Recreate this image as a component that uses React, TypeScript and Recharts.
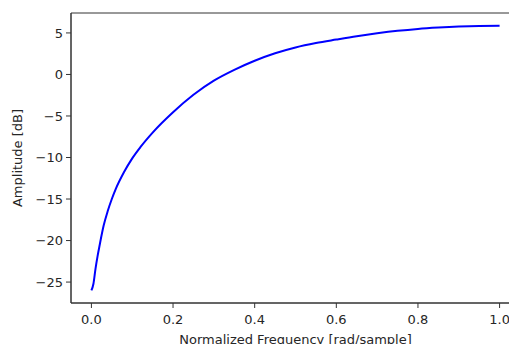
import { LineChart, Line, XAxis, YAxis, ReferenceArea } from 'recharts';

const frequency = [
  0, 0.005, 0.01, 0.015, 0.02, 0.03, 0.04, 0.05, 0.06, 0.08, 0.1, 0.12, 0.15,
  0.2, 0.25, 0.3, 0.35, 0.4, 0.45, 0.5, 0.55, 0.6, 0.65, 0.7, 0.75, 0.8, 0.85,
  0.9, 0.95, 1.0,
];
const amplitude = [
  -26.0, -25.2, -23.4, -21.9, -20.6, -18.2, -16.45, -15.0, -13.75, -11.75,
  -10.1, -8.75, -7.0, -4.55, -2.45, -0.75, 0.55, 1.65, 2.55, 3.25, 3.78, 4.2,
  4.6, 4.95, 5.25, 5.48, 5.64, 5.76, 5.83, 5.85,
];
const xTicks = [0, 0.2, 0.4, 0.6, 0.8, 1.0];
const yTicks = [-25, -20, -15, -10, -5, 0, 5];

const data = frequency.map((f, i) => ({ f, amp: amplitude[i] }));

const FONT = '"DejaVu Sans", sans-serif';
const TEXT = '#262626';
const AXIS = '#333';
const X_DOMAIN: [number, number] = [-0.05, 1.05];
const Y_DOMAIN: [number, number] = [-27.52, 7.4];

const fmtY = (v: number) => (v < 0 ? '\u2212' + Math.abs(v) : String(v));

const YLabel = () => (
  <text
    x={22}
    y={158}
    transform="rotate(-90, 22, 158)"
    textAnchor="middle"
    fontFamily={FONT}
    fontSize={13}
    fill={TEXT}
  >
    Amplitude [dB]
  </text>
);

export default function App() {
  return (
    <div style={{ position: 'absolute', left: 0, top: 0, width: 509, height: 344, overflow: 'hidden', background: '#fff' }}>
      <LineChart
        width={521}
        height={344}
        data={data}
        margin={{ top: 13, right: 1, bottom: 0, left: 0 }}
      >
        <XAxis
          dataKey="f"
          type="number"
          domain={X_DOMAIN}
          ticks={xTicks}
          tickFormatter={(v: number) => v.toFixed(1)}
          height={41}
          tickSize={5}
          tickMargin={7}
          stroke={AXIS}
          tick={{ fill: TEXT, fontSize: 13, fontFamily: FONT }}
          allowDataOverflow
          label={{
            value: 'Normalized Frequency [rad/sample]',
            position: 'insideBottom',
            offset: 0,
            fill: TEXT,
            fontSize: 13,
            fontFamily: FONT,
          }}
        />
        <YAxis
          type="number"
          domain={Y_DOMAIN}
          ticks={yTicks}
          tickFormatter={fmtY}
          width={71}
          tickSize={5}
          tickMargin={3}
          stroke={AXIS}
          tick={{ fill: TEXT, fontSize: 13, fontFamily: FONT }}
          allowDataOverflow
          label={{ content: () => <YLabel /> }}
        />
        {/* frame of the axes */}
        <ReferenceArea
          x1={X_DOMAIN[0]}
          x2={X_DOMAIN[1]}
          y1={Y_DOMAIN[0]}
          y2={Y_DOMAIN[1]}
          fill="none"
          stroke={AXIS}
          strokeWidth={1}
          ifOverflow="visible"
        />
        <Line
          dataKey="amp"
          type="monotone"
          stroke="#0000ff"
          strokeWidth={2}
          dot={false}
          isAnimationActive={false}
        />
      </LineChart>
    </div>
  );
}
